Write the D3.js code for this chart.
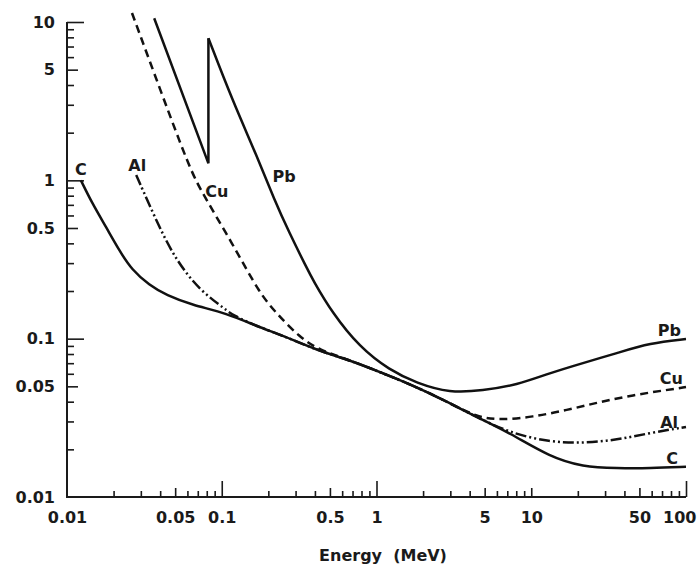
<!DOCTYPE html>
<html>
<head>
<meta charset="utf-8">
<script src="https://cdn.jsdelivr.net/npm/d3@7"></script>
<style>
  body { margin: 0; background: #fff; }
  text { font-family: "DejaVu Sans", sans-serif; font-weight: bold; fill: #1a1a1a; }
</style>
</head>
<body>
<script>
// Set dimensions
const width = 697, height = 568;

// [energy (MeV), attenuation coefficient]
const carbon = [
    [0.0123, 1.0], [0.0145, 0.72], [0.0179, 0.506], [0.0217, 0.362], [0.0263, 0.271],
    [0.034, 0.218], [0.0438, 0.188], [0.0644, 0.163], [0.107, 0.145], [0.175, 0.118],
    [0.246, 0.105], [0.409, 0.0847], [0.668, 0.0733], [1.09, 0.0607], [1.82, 0.0495],
    [2.97, 0.0392], [4.44, 0.032], [7.26, 0.0254], [13.2, 0.0179], [21.5, 0.0155],
    [35.8, 0.0152], [58.5, 0.0152], [100, 0.0155]
];
const aluminium = [
    [0.028, 1.08], [0.0394, 0.506], [0.0508, 0.313], [0.0715, 0.203], [0.107, 0.152],
    [0.117, 0.141], [0.175, 0.118], [0.246, 0.105], [0.409, 0.0847], [0.668, 0.0733],
    [1.09, 0.0607], [1.82, 0.0495], [2.97, 0.0392], [4.44, 0.032], [7.26, 0.0254],
    [13.2, 0.0222], [21.5, 0.0219], [35.8, 0.0229], [58.5, 0.0254], [100, 0.0277]
];
const copper = [
    [0.0263, 11.4], [0.0589, 1.34], [0.0715, 0.893], [0.117, 0.401], [0.175, 0.194],
    [0.225, 0.145], [0.3175, 0.1023], [0.428, 0.0847], [0.668, 0.0733], [1.09, 0.0607],
    [1.82, 0.0495], [2.97, 0.0392], [4.44, 0.032], [6.25, 0.0306], [10.2, 0.032],
    [17, 0.0354], [27.7, 0.0398], [45.4, 0.044], [75.3, 0.0474], [100, 0.0495]
];
// lead is split at the K edge
const leadBelowEdge = [[0.0366, 10.57], [0.082, 1.28], [0.082, 7.9]];
const leadAboveEdge = [
    [0.082, 7.9], [0.117, 3.21], [0.170, 1.40], [0.219, 0.75], [0.274, 0.464],
    [0.352, 0.283], [0.389, 0.234], [0.519, 0.145], [0.776, 0.0886], [1.21, 0.0634],
    [1.82, 0.0524], [2.97, 0.0454], [4.85, 0.047], [8.05, 0.0509], [13.2, 0.0607],
    [21.5, 0.0701], [35.8, 0.0811], [58.5, 0.0938], [100, 0.0994]
];

const xTickLabels = [0.01, 0.05, 0.1, 0.5, 1, 5, 10, 50, 100];
const yTickLabels = [10, 5, 1, 0.5, 0.1, 0.05, 0.01];

// Create an SVG
const svg = d3.select("body").append("svg")
    .attr("width", width)
    .attr("height", height);

svg.append("rect").attr("width", width).attr("height", height).attr("fill", "#fff");

// Log scales
const x = d3.scaleLog().domain([0.01, 100]).range([67, 686]);
const y = d3.scaleLog().domain([0.01, 10]).range([497, 22]);

// tick values: 1..9 in each decade
const decades = (lo, hi) => d3.range(lo, hi).flatMap(p => d3.range(1, 10).map(k => +(k * Math.pow(10, p)).toPrecision(3)));
const mantissa = v => Math.round(v / Math.pow(10, Math.floor(Math.log10(v) + 1e-9)));
const yAll = decades(-2, 1).concat([10]);
const xAll = decades(-2, 2).concat([100]);

// Y axis: ticks point into the plot, labels on the left
const yAxis = svg.append("g").attr("transform", `translate(${x(0.01)},0)`);
function yTicks(vals, size) {
    yAxis.append("g")
        .call(d3.axisLeft(y).tickValues(vals).tickSizeInner(-size).tickSizeOuter(0).tickFormat(""))
        .call(g => g.select(".domain").remove());
}
yTicks(yAll.filter(v => mantissa(v) !== 1 && mantissa(v) !== 5), 7);
yTicks([5, 0.5, 0.05], 11);
yTicks([10, 1, 0.1], 17);
yAxis.append("g")
    .call(d3.axisLeft(y).tickValues(yTickLabels).tickSize(0).tickPadding(12).tickFormat(d => d))
    .call(g => g.select(".domain").remove())
    .selectAll("text").style("font-size", "16px").style("font-family", null);

// X axis: ticks point up, labels below
const xAxis = svg.append("g").attr("transform", `translate(0,${y(0.01)})`);
function xTicks(vals, size) {
    xAxis.append("g")
        .call(d3.axisBottom(x).tickValues(vals).tickSizeInner(-size).tickSizeOuter(0).tickFormat(""))
        .call(g => g.select(".domain").remove());
}
xTicks(xAll.filter(v => mantissa(v) !== 1 && mantissa(v) !== 5), 6);
xTicks([0.05, 0.5, 5, 10, 50], 9);
xTicks([0.1, 1, 100], 16);
xAxis.append("g")
    .call(d3.axisBottom(x).tickValues(xTickLabels).tickSize(0).tickPadding(15).tickFormat(d => d))
    .call(g => g.select(".domain").remove())
    .selectAll("text")
    .style("font-size", "16px").style("font-family", null)
    .filter(d => d === 100)
    .attr("text-anchor", "end")
    .attr("x", 696 - x(100));

svg.selectAll(".tick line").attr("stroke", "#1a1a1a").attr("stroke-width", 1.6);

// axis lines
svg.append("path")
    .attr("d", `M${x(0.01)},${y(10)}V${y(0.01)}H${x(100)}`)
    .attr("fill", "none")
    .attr("stroke", "#1a1a1a")
    .attr("stroke-width", 2);

svg.append("text")
    .attr("x", 383).attr("y", 561)
    .attr("text-anchor", "middle")
    .style("font-size", "16px")
    .attr("xml:space", "preserve")
    .text("Energy  (MeV)");

// Curves
const smooth = d3.line().x(d => x(d[0])).y(d => y(d[1])).curve(d3.curveBasis);
const straight = d3.line().x(d => x(d[0])).y(d => y(d[1]));

const curves = [
    { data: carbon, line: smooth, dash: null },
    { data: aluminium, line: smooth, dash: "11,3,2,3,2,3" },
    { data: copper, line: smooth, dash: "8,5" },
    { data: leadBelowEdge, line: straight, dash: null },
    { data: leadAboveEdge, line: smooth, dash: null }
];
curves.forEach(c => {
    svg.append("path")
        .datum(c.data)
        .attr("d", c.line)
        .attr("fill", "none")
        .attr("stroke", "#111")
        .attr("stroke-width", 2.5)
        .attr("stroke-dasharray", c.dash);
});

// Curve labels
const first = a => a[0], last = a => a[a.length - 1];
const labels = [
    { text: "C", at: first(carbon), anchor: "middle", dx: 0, dy: -5 },
    { text: "Al", at: first(aluminium), anchor: "middle", dx: 1, dy: -4 },
    { text: "Cu", at: copper[2], anchor: "start", dx: 6, dy: 9 },
    { text: "Pb", at: leadAboveEdge[2], anchor: "start", dx: 15, dy: 25 },
    { text: "Pb", at: last(leadAboveEdge), anchor: "end", dx: -5, dy: -3 },
    { text: "Cu", at: last(copper), anchor: "end", dx: -3, dy: -3 },
    { text: "Al", at: last(aluminium), anchor: "end", dx: -8, dy: 1 },
    { text: "C", at: last(carbon), anchor: "end", dx: -8, dy: -3 }
];
svg.selectAll(".curve-label")
    .data(labels)
    .enter()
    .append("text")
    .attr("class", "curve-label")
    .attr("x", d => x(d.at[0]) + d.dx)
    .attr("y", d => y(d.at[1]) + d.dy)
    .attr("text-anchor", d => d.anchor)
    .style("font-size", "16px")
    .text(d => d.text);
</script>
</body>
</html>
